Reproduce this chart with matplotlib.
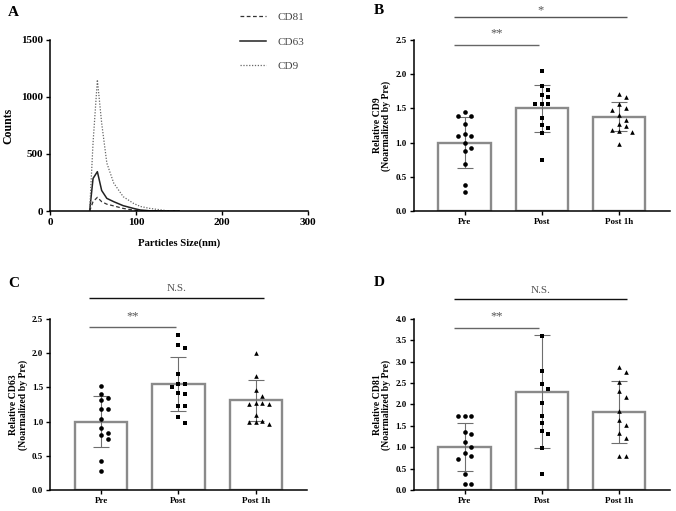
import numpy as np
import matplotlib
matplotlib.use("Agg")
import matplotlib.pyplot as plt

plt.rcParams['font.family'] = ['Liberation Serif', 'DejaVu Serif']

# ---- 데이터 ----
size_nm = [46, 50, 55, 60, 66, 74, 85, 97, 105, 116, 136, 150]
cd81_counts = [0, 82, 120, 82, 60, 45, 23, 8, 3, 0, 0, 0]
cd63_counts = [0, 286, 345, 180, 111, 82, 47, 23, 9, 2, 0, 0]
cd9_counts = [0, 600, 1150, 770, 420, 245, 126, 67, 40, 23, 3, 0]

groups = ["Pre", "Post", "Post 1h"]

cd9_mean = [1.00, 1.50, 1.38]
cd9_sd = [0.37, 0.34, 0.215]
cd9_pre = [1.45, 1.39, 1.39, 1.27, 1.13, 1.09, 1.09, 1.00, 0.92, 0.88, 0.68, 0.38, 0.28]
cd9_post = [2.05, 1.82, 1.77, 1.69, 1.66, 1.57, 1.56, 1.56, 1.36, 1.26, 1.22, 1.14, 0.75]
cd9_post1h = [1.71, 1.66, 1.56, 1.50, 1.48, 1.40, 1.33, 1.27, 1.24, 1.19, 1.17, 1.16, 0.98]

cd63_mean = [1.00, 1.55, 1.31]
cd63_sd = [0.375, 0.40, 0.30]
cd63_pre = [1.52, 1.40, 1.34, 1.31, 1.19, 1.19, 1.04, 0.90, 0.84, 0.81, 0.75, 0.42, 0.28]
cd63_post = [2.27, 2.12, 2.08, 1.69, 1.55, 1.545, 1.50, 1.42, 1.40, 1.23, 1.23, 1.06, 0.975]
cd63_post1h = [2.00, 1.67, 1.46, 1.38, 1.27, 1.27, 1.25, 1.25, 1.09, 1.01, 1.00, 1.00, 0.97]

cd81_mean = [1.00, 2.30, 1.83]
cd81_sd = [0.56, 1.32, 0.72]
cd81_pre = [1.73, 1.72, 1.72, 1.36, 1.32, 1.12, 1.00, 0.86, 0.80, 0.73, 0.38, 0.14, 0.14]
cd81_post = [3.60, 2.79, 2.47, 2.37, 2.04, 1.73, 1.56, 1.39, 1.30, 0.98, 0.37]
cd81_post1h = [2.87, 2.77, 2.52, 2.32, 2.18, 1.84, 1.63, 1.52, 1.33, 1.22, 0.80, 0.80]

fig = plt.figure(figsize=(6.76, 5.11), dpi=100)

bar_col = '#8a8a8a'
err_col = '#6e6e6e'


def style_axes(ax, labelsize):
    for s in ['top', 'right']:
        ax.spines[s].set_visible(False)
    for s in ['left', 'bottom']:
        ax.spines[s].set_linewidth(1.1)
    ax.tick_params(direction='out', width=1.0, length=3, labelsize=labelsize, pad=2)
    for lab in ax.get_xticklabels() + ax.get_yticklabels():
        lab.set_fontweight('bold')


def swarm(vals, ppu, step=0.085, diam=6.0, cat_px=77.0):
    # 겹치는 점을 좌우로 벌려 놓기 (beeswarm 방식)
    placed = []
    offs = []
    for v in vals:
        k = 0
        while True:
            c = ((k + 1) // 2) * step * (1 if k % 2 else -1) if k else 0.0
            ok = all(np.hypot((c - o) * cat_px, (v - pv) * ppu) >= diam for o, pv in placed)
            if ok:
                break
            k += 1
        placed.append((c, v))
        offs.append(c)
    return np.array(offs)


def bar_panel(rect, means, sds, pts, ylim, yticks, ylabel, sig, letter, letter_xy):
    ax = fig.add_axes(rect)
    x = np.arange(len(groups))
    ax.bar(x, means, width=0.68, color='white', edgecolor=bar_col, linewidth=1.7, zorder=1)
    ax.errorbar(x, means, yerr=sds, fmt='none', ecolor=err_col, elinewidth=0.8,
                capsize=6, capthick=0.8, zorder=2)
    ax.set_xlim(-0.66, 2.66)
    ax.set_ylim(*ylim)
    ppu = rect[3] * 511 / (ylim[1] - ylim[0])
    markers = ['o', 's', '^']
    for i, vals in enumerate(pts):
        offs = swarm(vals, ppu)
        ax.scatter(i + offs, vals, marker=markers[i], s=11, color='black',
                   linewidths=0, zorder=3)
    ax.set_xticks(x)
    ax.set_xticklabels(groups)
    ax.set_yticks(yticks)
    ax.set_yticklabels([f"{t:.1f}" for t in yticks])
    ax.set_ylabel(ylabel, fontsize=7, fontweight='bold', labelpad=3, linespacing=1.0)
    style_axes(ax, 6.5)
    for x0, x1, y, label, ly, col, fs in sig:
        ax.plot([x0, x1], [y, y], color=col, lw=1.0, clip_on=False, solid_capstyle='butt')
        ax.text((x0 + x1) / 2, ly, label, ha='center', va='center', fontsize=fs,
                color='#555555', clip_on=False)
    fig.text(letter_xy[0], letter_xy[1], letter, fontsize=11, fontweight='bold',
             ha='left', va='center')
    return ax


# ---- A: 입자 크기 분포 ----
axA = fig.add_axes([0.074, 0.587, 0.382, 0.335])
axA.plot(size_nm, cd81_counts, color='#333333', lw=0.9, ls=(0, (3, 2)), label='CD81')
axA.plot(size_nm, cd63_counts, color='#222222', lw=1.1, ls='-', label='CD63')
axA.plot(size_nm, cd9_counts, color='#666666', lw=0.9, ls=(0, (1, 1.3)), label='CD9')
axA.set_xlim(0, 300)
axA.set_ylim(0, 1500)
axA.set_xticks([0, 100, 200, 300])
axA.set_yticks([0, 500, 1000, 1500])
axA.set_xlabel('Particles Size(nm)', fontsize=7.7, fontweight='bold', labelpad=8)
axA.set_ylabel('Counts', fontsize=8.5, fontweight='bold', labelpad=5)
style_axes(axA, 8)
axA.legend(loc='upper left', bbox_to_anchor=(240 / 676, 1 - 12 / 511),
           bbox_transform=fig.transFigure, frameon=False, fontsize=8,
           handlelength=2.3, handletextpad=1.1, labelspacing=1.35,
           borderpad=0, borderaxespad=0, labelcolor='#444444')
fig.text(0.012, 0.975, 'A', fontsize=11, fontweight='bold', ha='left', va='center')

# ---- B: CD9 ----
bar_panel([0.612, 0.587, 0.379, 0.335], cd9_mean, cd9_sd,
          [cd9_pre, cd9_post, cd9_post1h], (0, 2.5), np.arange(0, 2.51, 0.5),
          'Relative CD9\n(Noarmalized by Pre)',
          [(-0.14, 0.97, 2.42, '**', 2.6, '#666666', 9),
           (-0.14, 2.10, 2.84, '*', 2.93, '#555555', 9)],
          'B', (0.553, 0.98))

# ---- C: CD63 ----
bar_panel([0.074, 0.041, 0.380, 0.335], cd63_mean, cd63_sd,
          [cd63_pre, cd63_post, cd63_post1h], (0, 2.5), np.arange(0, 2.51, 0.5),
          'Relative CD63\n(Noarmalized by Pre)',
          [(-0.16, 0.97, 2.38, '**', 2.54, '#666666', 9),
           (-0.16, 2.10, 2.81, 'N.S.', 2.95, '#111111', 8)],
          'C', (0.012, 0.446))

# ---- D: CD81 ----
bar_panel([0.612, 0.041, 0.379, 0.335], cd81_mean, cd81_sd,
          [cd81_pre, cd81_post, cd81_post1h], (0, 4.0), np.arange(0, 4.01, 0.5),
          'Relative CD81\n(Noarmalized by Pre)',
          [(-0.14, 0.97, 3.79, '**', 4.05, '#666666', 9),
           (-0.14, 2.10, 4.47, 'N.S.', 4.67, '#111111', 8)],
          'D', (0.553, 0.448))

fig.savefig('out.png', dpi=100)
